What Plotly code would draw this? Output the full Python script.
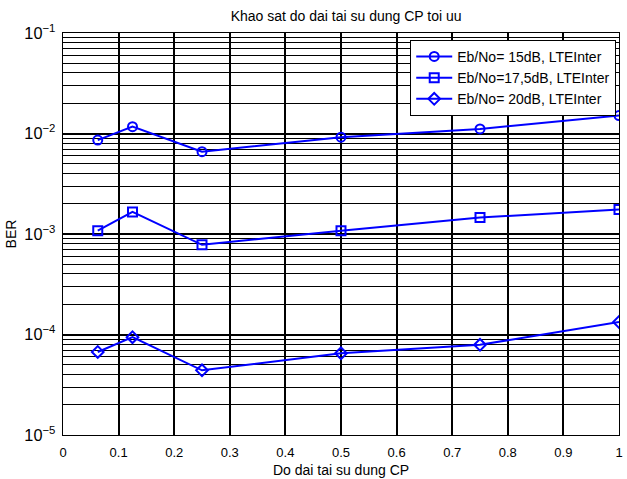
import plotly.graph_objects as go

# Cyclic-prefix reuse length (fraction of CP)
cp_len = [0.0625, 0.125, 0.25, 0.5, 0.75, 1.0]

# BER for each Eb/No setting
ber_15db = [8.6e-3, 1.17e-2, 6.6e-3, 9.2e-3, 1.11e-2, 1.51e-2]
ber_17_5db = [1.08e-3, 1.66e-3, 7.8e-4, 1.08e-3, 1.46e-3, 1.75e-3]
ber_20db = [6.7e-5, 9.4e-5, 4.4e-5, 6.5e-5, 7.9e-5, 1.33e-4]

series_names = ["Eb/No= 15dB, LTEInter", "Eb/No=17,5dB, LTEInter", "Eb/No= 20dB, LTEInter"]
series_data = [ber_15db, ber_17_5db, ber_20db]
series_symbols = ["circle-open", "square-open", "diamond-open"]

x_ticks = [0, 0.1, 0.2, 0.3, 0.4, 0.5, 0.6, 0.7, 0.8, 0.9, 1]
x_tick_text = ["0", "0.1", "0.2", "0.3", "0.4", "0.5", "0.6", "0.7", "0.8", "0.9", "1"]

fig = go.Figure()
for name, vals, sym in zip(series_names, series_data, series_symbols):
    fig.add_trace(go.Scatter(
        x=cp_len, y=vals, name=name, mode="lines+markers",
        line=dict(color="#0000ff", width=2),
        marker=dict(symbol=sym, size=9, color="#0000ff", line=dict(width=2, color="#0000ff")),
    ))

font_family = "Liberation Sans, Arial, sans-serif"

fig.update_layout(
    width=627, height=479,
    margin=dict(l=63, r=4, t=33, b=43),
    paper_bgcolor="white", plot_bgcolor="white",
    font=dict(family=font_family, size=14, color="black"),
    title=dict(text="Khao sat do dai tai su dung CP toi uu", x=0.552, xanchor="center",
               y=1 - 16 / 479, yanchor="middle", font=dict(size=14)),
    showlegend=True,
    legend=dict(x=0.995, xanchor="right", y=0.983, yanchor="top",
                bgcolor="white", bordercolor="black", borderwidth=1,
                font=dict(size=14), tracegroupgap=0, itemwidth=36),
)

fig.update_xaxes(
    range=[0, 1], tickvals=x_ticks, ticktext=x_tick_text,
    showgrid=True, gridcolor="black", gridwidth=1.5,
    showline=True, linecolor="black", linewidth=1, mirror=True,
    ticks="", zeroline=False, ticklabelstandoff=5,
    title=dict(text="Do dai tai su dung CP", standoff=6, font=dict(size=14)),
    tickfont=dict(size=13),
)

fig.update_yaxes(
    type="log", range=[-5, -1], dtick=1, exponentformat="power",
    showgrid=True, gridcolor="black", gridwidth=1.5,
    minor=dict(dtick="D1", showgrid=True, gridcolor="black", gridwidth=1.3, ticks=""),
    showline=True, linecolor="black", linewidth=1, mirror=True,
    ticks="", zeroline=False, ticklabelstandoff=4,
    title=dict(text="BER", standoff=4, font=dict(size=14)),
    tickfont=dict(size=13),
)

fig.write_html("out.html")
